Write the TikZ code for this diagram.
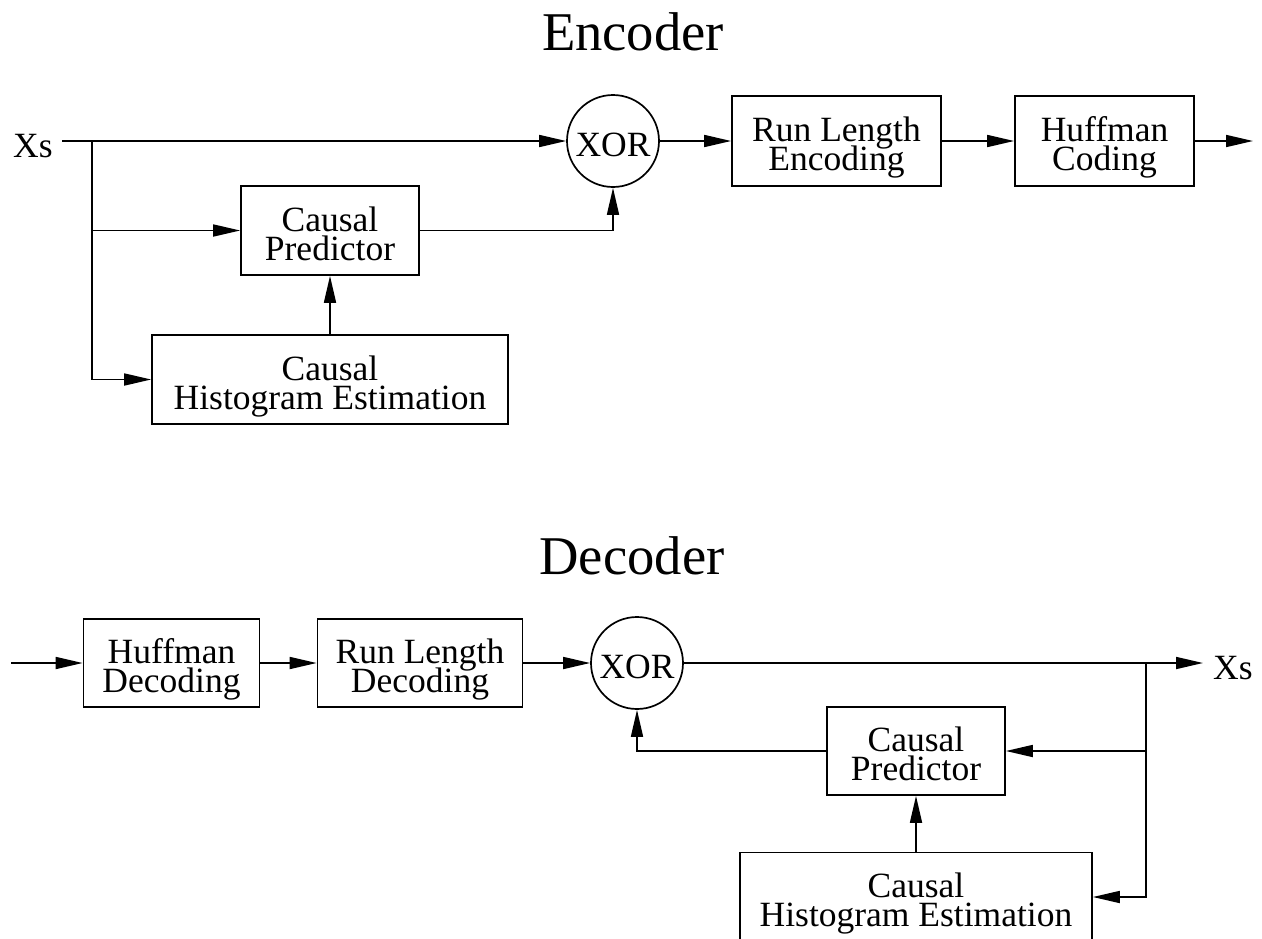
\documentclass[tikz,border=0pt]{standalone}
\usepackage{fontspec}
\setmainfont{Liberation Serif}
\usetikzlibrary{arrows.meta}
\newcommand{\twolines}[2]{\rule{0pt}{38pt}#1\\#2\rule[-8pt]{0pt}{8pt}}
\newcommand{\nodefont}{\fontsize{35.5}{29}\selectfont\lineskiplimit-100pt\relax}
\newcommand{\titlefont}{\fontsize{54.6}{60}\selectfont}
\begin{document}
\begin{tikzpicture}[x=1pt,y=-1pt,
  every node/.style={font=\nodefont},
  blk/.style={draw, line width=1.7pt, inner sep=0pt, align=center},
  xorn/.style={draw, circle, minimum size=92pt, inner sep=0pt, line width=1.7pt, text height=30pt, text depth=0pt},
  conn/.style={line width=1.7pt, -{Triangle[length=27pt,width=12pt]}},
  ttl/.style={font=\titlefont, anchor=base}
]
\useasboundingbox (0,0) rectangle (1262,938);
\clip (0,0) rectangle (1262,938);

% ---------------- Encoder ----------------
\node[ttl] (enct) at (633,50) {Encoder};
\node[anchor=base west, inner sep=0pt] (xsin) at (13,157) {Xs};
\coordinate (xsstart) at (62,141);
\coordinate (br1) at (92,141);
\node[xorn] (xor1) at (613,141) {XOR};
\node[blk, minimum width=209pt, minimum height=90pt] (rle) at (836.5,141) {\twolines{Run Length}{Encoding}};
\node[blk, minimum width=179pt, minimum height=90pt] (huf) at (1104.5,141) {\twolines{Huffman}{Coding}};
\coordinate (encout) at (1253,141);
\node[blk, minimum width=178pt, minimum height=89pt] (pred1) at (330,230.5) {\twolines{Causal}{Predictor}};
\node[blk, minimum width=356pt, minimum height=89pt] (hist1) at (330,379.5) {\twolines{Causal}{Histogram Estimation}};

\draw[conn] (xsstart) -- (xor1.west);
\draw[conn] (br1) |- (pred1.west);
\draw[conn] (br1) |- (hist1.west);
\draw[conn] (pred1.east) -| (xor1.south);
\draw[conn] (hist1.north) -- (pred1.south);
\draw[conn] (xor1.east) -- (rle.west);
\draw[conn] (rle.east) -- (huf.west);
\draw[conn] (huf.east) -- (encout);

% ---------------- Decoder ----------------
\node[ttl] (dect) at (632,574) {Decoder};
\coordinate (decin) at (11,663);
\node[blk, minimum width=176pt, minimum height=88pt] (hufd) at (171.5,663) {\twolines{Huffman}{Decoding}};
\node[blk, minimum width=205pt, minimum height=88pt] (rld) at (420,663) {\twolines{Run Length}{Decoding}};
\node[xorn] (xor2) at (637,663) {XOR};
\coordinate (br2) at (1146,663);
\coordinate (decout) at (1203,663);
\node[anchor=base west, inner sep=0pt] (xsout) at (1213,679) {Xs};
\node[blk, minimum width=178pt, minimum height=88pt] (pred2) at (916,751) {\twolines{Causal}{Predictor}};
\node[blk, minimum width=352pt, minimum height=89pt] (hist2) at (916,897) {\twolines{Causal}{Histogram Estimation}};

\draw[conn] (decin) -- (hufd.west);
\draw[conn] (hufd.east) -- (rld.west);
\draw[conn] (rld.east) -- (xor2.west);
\draw[conn] (xor2.east) -- (decout);
\draw[conn] (br2) |- (pred2.east);
\draw[conn] (br2) |- (hist2.east);
\draw[conn] (pred2.west) -| (xor2.south);
\draw[conn] (hist2.north) -- (pred2.south);
\end{tikzpicture}
\end{document}
